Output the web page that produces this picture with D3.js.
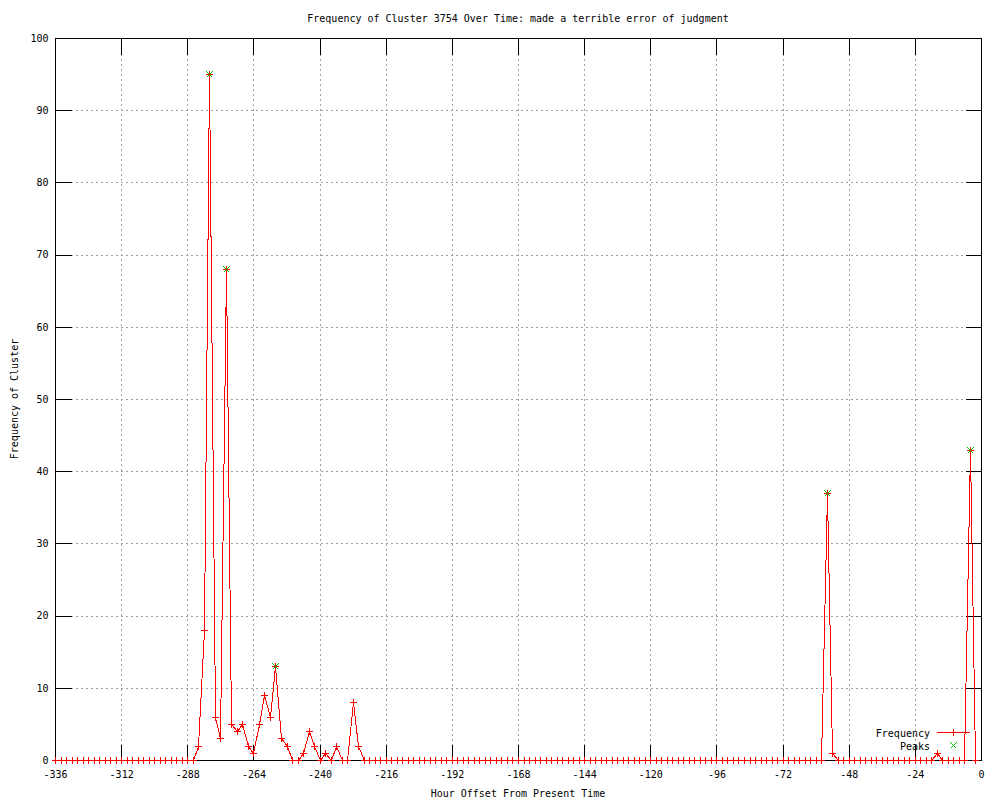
<!DOCTYPE html>
<html>
<head>
<meta charset="utf-8">
<script src="https://cdn.jsdelivr.net/npm/d3@7"></script>
<style>
  html, body { margin: 0; padding: 0; background: #fff; }
  svg text { font-family: "DejaVu Sans Mono", monospace; font-size: 10px; fill: #000; }
</style>
</head>
<body>
<svg id="chart" width="1000" height="800"></svg>
<script>
// ---- data ----
const hours = [
  -336,-334,-332,-330,-328,-326,-324,-322,-320,-318,-316,-314,-312,-310,-308,-306,-304,-302,-300,-298,
  -296,-294,-292,-290,-288,-286,-284,-282,-280,-278,-276,-274,-272,-270,-268,-266,-264,-262,-260,-258,
  -256,-254,-252,-250,-248,-246,-244,-242,-240,-238,-236,-234,-232,-230,-228,-226,-224,-222,-220,-218,
  -216,-214,-212,-210,-208,-206,-204,-202,-200,-198,-196,-194,-192,-190,-188,-186,-184,-182,-180,-178,
  -176,-174,-172,-170,-168,-166,-164,-162,-160,-158,-156,-154,-152,-150,-148,-146,-144,-142,-140,-138,
  -136,-134,-132,-130,-128,-126,-124,-122,-120,-118,-116,-114,-112,-110,-108,-106,-104,-102,-100,-98,
  -96,-94,-92,-90,-88,-86,-84,-82,-80,-78,-76,-74,-72,-70,-68,-66,-64,-62,-60,-58,
  -56,-54,-52,-50,-48,-46,-44,-42,-40,-38,-36,-34,-32,-30,-28,-26,-24,-22,-20,-18,
  -16,-14,-12,-10,-8,-6,-4,-2
];
const frequency = [
  0,0,0,0,0,0,0,0,0,0,0,0,0,0,0,0,0,0,0,0,
  0,0,0,0,0,0,2,18,95,6,3,68,5,4,5,2,1,5,9,6,
  13,3,2,0,0,1,4,2,0,1,0,2,0,0,8,2,0,0,0,0,
  0,0,0,0,0,0,0,0,0,0,0,0,0,0,0,0,0,0,0,0,
  0,0,0,0,0,0,0,0,0,0,0,0,0,0,0,0,0,0,0,0,
  0,0,0,0,0,0,0,0,0,0,0,0,0,0,0,0,0,0,0,0,
  0,0,0,0,0,0,0,0,0,0,0,0,0,0,0,0,0,0,0,0,
  37,1,0,0,0,0,0,0,0,0,0,0,0,0,0,0,0,0,0,0,
  1,0,0,0,0,0,43,0
];
const peakHours = [-280, -274, -256, -56, -4];
const peakValues = [95, 68, 13, 37, 43];
const xTicks = [-336,-312,-288,-264,-240,-216,-192,-168,-144,-120,-96,-72,-48,-24,0];
const yTicks = [0,10,20,30,40,50,60,70,80,90,100];
const titleText = "Frequency of Cluster 3754 Over Time: made a terrible error of judgment";
const xLabel = "Hour Offset From Present Time";
const yLabel = "Frequency of Cluster";
const seriesNames = ["Frequency", "Peaks"];

// ---- layout ----
const L = 55, R = 981, T = 38, B = 760;
const svg = d3.select("#chart");
const x = d3.scaleLinear().domain([-336, 0]).range([L, R]);
const y = d3.scaleLinear().domain([0, 100]).range([B, T]);
const px = v => Math.round(x(v)) + 0.5;
const py = v => Math.round(y(v)) + 0.5;

// grid
const grid = svg.append("g").attr("shape-rendering", "crispEdges")
  .attr("stroke", "#a0a0a0").attr("stroke-width", 1).attr("stroke-dasharray", "2,3");
grid.selectAll("line.gx").data(xTicks.slice(1, -1)).enter().append("line")
  .attr("x1", d => px(d)).attr("x2", d => px(d)).attr("y1", T + 0.5).attr("y2", B + 0.5);
grid.selectAll("line.gy").data(yTicks.slice(1, -1)).enter().append("line")
  .attr("y1", d => py(d)).attr("y2", d => py(d)).attr("x1", L + 0.5).attr("x2", R + 0.5);

// axes
const tick = 16;
function styleAxis(g) {
  g.attr("shape-rendering", "crispEdges");
  g.select(".domain").remove();
  g.selectAll(".tick line").attr("stroke", "#000");
  g.selectAll("text").attr("font-family", "DejaVu Sans Mono, monospace").attr("font-size", "10px").attr("fill", "#000");
}
const fmt = d => String(d);
svg.append("g").attr("transform", `translate(0.5,${B + 0.5})`)
  .call(d3.axisBottom(x).tickValues(xTicks).tickFormat(fmt).tickSizeInner(-tick).tickSizeOuter(0).tickPadding(10).offset(0))
  .call(styleAxis);
svg.append("g").attr("transform", `translate(0.5,${T + 0.5})`)
  .call(d3.axisTop(x).tickValues(xTicks).tickFormat("").tickSizeInner(-tick).tickSizeOuter(0).offset(0))
  .call(styleAxis);
svg.append("g").attr("transform", `translate(${L + 0.5},0.5)`)
  .call(d3.axisLeft(y).tickValues(yTicks).tickFormat(fmt).tickSizeInner(-tick).tickSizeOuter(0).tickPadding(7).offset(0))
  .call(styleAxis);
svg.append("g").attr("transform", `translate(${R + 0.5},0.5)`)
  .call(d3.axisRight(y).tickValues(yTicks).tickFormat("").tickSizeInner(-tick).tickSizeOuter(0).offset(0))
  .call(styleAxis);

// border
svg.append("rect").attr("x", L + 0.5).attr("y", T + 0.5).attr("width", R - L).attr("height", B - T)
  .attr("fill", "none").attr("stroke", "#000").attr("shape-rendering", "crispEdges");

// frequency line
const pts = hours.map((h, i) => [h, frequency[i]]);
const line = d3.line().x(d => px(d[0])).y(d => py(d[1]));
svg.append("path").datum(pts).attr("d", line)
  .attr("fill", "none").attr("stroke", "#ff0000").attr("stroke-width", 1).attr("shape-rendering", "crispEdges");

const plusPath = "M-3.5,0H3.5M0,-3.5V3.5";
const crossPath = "M-3,-3L3,3M-3,3L3,-3";
svg.append("g").selectAll("path").data(pts).enter().append("path")
  .attr("transform", d => `translate(${px(d[0])},${py(d[1])})`)
  .attr("d", plusPath).attr("stroke", "#ff0000").attr("fill", "none").attr("shape-rendering", "crispEdges");

// peaks
const peaks = peakHours.map((h, i) => [h, peakValues[i]]);
svg.append("g").selectAll("path").data(peaks).enter().append("path")
  .attr("transform", d => `translate(${px(d[0])},${py(d[1])})`)
  .attr("d", crossPath).attr("stroke", "#00c000").attr("fill", "none").attr("shape-rendering", "crispEdges");

// legend
const lg = svg.append("g");
lg.append("text").attr("x", 930).attr("y", 736.5).attr("text-anchor", "end").text(seriesNames[0]);
lg.append("line").attr("x1", 937).attr("x2", 970).attr("y1", 732.5).attr("y2", 732.5)
  .attr("stroke", "#ff0000").attr("shape-rendering", "crispEdges");
lg.append("path").attr("transform", "translate(953.5,732.5)").attr("d", plusPath)
  .attr("stroke", "#ff0000").attr("fill", "none").attr("shape-rendering", "crispEdges");
lg.append("text").attr("x", 930).attr("y", 749.5).attr("text-anchor", "end").text(seriesNames[1]);
lg.append("path").attr("transform", "translate(953.5,745.5)").attr("d", crossPath)
  .attr("stroke", "#00c000").attr("fill", "none").attr("shape-rendering", "crispEdges");

// titles
svg.append("text").attr("x", 518).attr("y", 22).attr("text-anchor", "middle").text(titleText);
svg.append("text").attr("x", 518).attr("y", 797).attr("text-anchor", "middle").text(xLabel);
svg.append("text").attr("transform", "translate(17.5,399) rotate(-90)").attr("text-anchor", "middle").text(yLabel);
</script>
</body>
</html>
